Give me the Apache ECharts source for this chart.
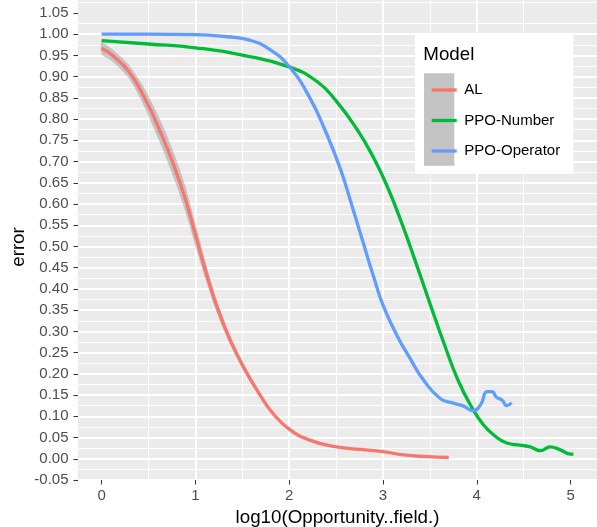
<!DOCTYPE html>
<html><head><meta charset="utf-8">
<script src="https://cdn.jsdelivr.net/npm/echarts@6/dist/echarts.min.js"></script>
<style>html,body{margin:0;padding:0;background:#fff}#c{width:597px;height:527px}</style>
</head><body><div id="c"></div>
<script>
// ---- data ----
const xTicks = [0, 1, 2, 3, 4, 5];
const yTicks = [-0.05, 0, 0.05, 0.10, 0.15, 0.20, 0.25, 0.30, 0.35, 0.40, 0.45, 0.50,
                0.55, 0.60, 0.65, 0.70, 0.75, 0.80, 0.85, 0.90, 0.95, 1.00, 1.05];
const seriesNames = ['AL', 'PPO-Number', 'PPO-Operator'];

const alX  = [0, 0.11, 0.29, 0.46, 0.64, 0.78, 0.89, 0.96, 1.02, 1.12, 1.23, 1.37, 1.51, 1.69, 1.83, 2.01, 2.22, 2.47, 2.76, 3.00, 3.22, 3.47, 3.70];
const alY  = [0.967, 0.951, 0.912, 0.849, 0.763, 0.685, 0.614, 0.560, 0.512, 0.434, 0.358, 0.280, 0.217, 0.150, 0.106, 0.068, 0.044, 0.029, 0.022, 0.017, 0.009, 0.005, 0.003];
const alSe = [0.014, 0.014, 0.016, 0.022, 0.028, 0.030, 0.030, 0.028, 0.026, 0.020, 0.015, 0.011, 0.008, 0.005, 0.004, 0.003, 0.002, 0.002, 0.002, 0.002, 0.002, 0.002, 0.002];

const pnX = [0, 0.5, 1.0, 1.5, 2.0, 2.3, 2.5, 2.72, 2.9, 3.05, 3.2, 3.35, 3.5, 3.65, 3.8, 3.96, 4.07, 4.18, 4.32, 4.46, 4.57, 4.68, 4.78, 4.89, 5.0, 5.03];
const pnY = [0.985, 0.977, 0.968, 0.951, 0.923, 0.888, 0.843, 0.777, 0.709, 0.639, 0.555, 0.462, 0.366, 0.272, 0.185, 0.116, 0.080, 0.056, 0.037, 0.032, 0.028, 0.019, 0.028, 0.021, 0.011, 0.011];

const poX = [0, 0.5, 1.0, 1.335, 1.58, 1.8, 2.01, 2.22, 2.40, 2.55, 2.65, 2.79, 2.90, 3.0, 3.15, 3.29, 3.43, 3.61, 3.75, 3.86, 3.96, 4.04, 4.11, 4.16, 4.21, 4.27, 4.32, 4.37];
const poY = [1.0, 1.0, 0.999, 0.994, 0.986, 0.963, 0.921, 0.850, 0.765, 0.680, 0.610, 0.508, 0.429, 0.362, 0.290, 0.236, 0.186, 0.142, 0.131, 0.124, 0.113, 0.127, 0.158, 0.158, 0.145, 0.138, 0.125, 0.132];

const colors = ['#F8766D', '#00BA38', '#619CFF'];
// ---------------------------------------

const FONT = '"Liberation Sans", Arial, Helvetica, sans-serif';
const zip = (xs, ys) => xs.map((x, i) => [x, ys[i]]);

const chart = echarts.init(document.getElementById('c'), null, {renderer: 'canvas'});

function lineSeries(name, xs, ys, color, z) {
  return {
    type: 'line', name: name, data: zip(xs, ys),
    showSymbol: false, symbol: 'none', smooth: 0.5, z: z,
    color: color,
    itemStyle: {color: color},
    lineStyle: {color: color, width: 3.3},
    emphasis: {disabled: true}
  };
}

const option = {
  animation: false,
  grid: {left: 78, top: 0, width: 519, height: 480, show: true, backgroundColor: '#EBEBEB', borderWidth: 0,
         containLabel: false, outerBoundsMode: 'none'},
  xAxis: {
    type: 'value', min: -0.2515, max: 5.2815, minInterval: 1, maxInterval: 1, splitNumber: 5,
    axisLine: {show: false, onZero: false},
    axisTick: {show: true, length: 4.5, customValues: xTicks, lineStyle: {color: '#333333', width: 1}},
    axisLabel: {customValues: xTicks, color: '#4D4D4D', fontSize: 15, margin: 8, fontFamily: FONT,
                formatter: v => String(v)},
    splitLine: {show: true, showMinLine: false, showMaxLine: false, lineStyle: {color: '#FFFFFF', width: 1.9}},
    minorTick: {show: false, splitNumber: 2},
    minorSplitLine: {show: true, lineStyle: {color: '#FFFFFF', width: 0.95}},
    name: 'log10(Opportunity..field.)', nameLocation: 'middle', nameGap: 28, nameMoveOverlap: false,
    nameTextStyle: {color: '#000000', fontSize: 18.75, fontFamily: FONT}
  },
  yAxis: {
    type: 'value', min: -0.05, max: 1.0806, interval: 0.05,
    axisLine: {show: false, onZero: false},
    axisTick: {show: true, length: 4.5, customValues: yTicks, lineStyle: {color: '#333333', width: 1}},
    axisLabel: {customValues: yTicks, color: '#4D4D4D', fontSize: 15, margin: 9.5, fontFamily: FONT,
                formatter: v => v.toFixed(2)},
    splitLine: {show: true, showMinLine: true, showMaxLine: false, lineStyle: {color: '#FFFFFF', width: 1.9}},
    minorTick: {show: false, splitNumber: 2},
    minorSplitLine: {show: true, lineStyle: {color: '#FFFFFF', width: 0.95}},
    name: 'error', nameLocation: 'middle', nameGap: 50, nameRotate: 90, nameMoveOverlap: false,
    nameTextStyle: {color: '#000000', fontSize: 18.75, fontFamily: FONT, padding: [0, 14, 0, 0]}
  },
  legend: {
    data: seriesNames, orient: 'vertical', left: 426.7, top: 76, z: 6,
    itemWidth: 25, itemHeight: 3.3, itemGap: 12.5, icon: 'rect', selectedMode: false,
    textStyle: {fontSize: 15, color: '#000000', fontFamily: FONT, lineHeight: 18, padding: [0, 0, 0, 2.6]}
  },
  graphic: [
    {type: 'rect', z: 3, shape: {x: 415, y: 34, width: 158.3, height: 140}, style: {fill: '#FFFFFF'}},
    {type: 'rect', z: 4, shape: {x: 424, y: 73.3, width: 30.3, height: 92.4}, style: {fill: '#C4C4C4'}},
    {type: 'text', z: 4, x: 423.3, y: 55.3,
     style: {text: 'Model', fontSize: 18.75, fontFamily: FONT, fill: '#000000', verticalAlign: 'middle', align: 'left'}}
  ],
  series: [
    {
      type: 'custom', name: 'AL band', silent: true, z: 1, clip: true,
      data: [[alX[0], alY[0]]],
      renderItem: function (params, api) {
        const pts = [];
        for (let i = 0; i < alX.length; i++) pts.push(api.coord([alX[i], alY[i] + alSe[i]]));
        for (let i = alX.length - 1; i >= 0; i--) pts.push(api.coord([alX[i], alY[i] - alSe[i]]));
        return {type: 'polygon', shape: {points: pts, smooth: 0.25}, style: {fill: 'rgba(153,153,153,0.5)'}};
      }
    },
    lineSeries(seriesNames[0], alX, alY, colors[0], 2),
    lineSeries(seriesNames[1], pnX, pnY, colors[1], 3),
    lineSeries(seriesNames[2], poX, poY, colors[2], 4)
  ]
};
chart.setOption(option);
</script>
</body></html>
